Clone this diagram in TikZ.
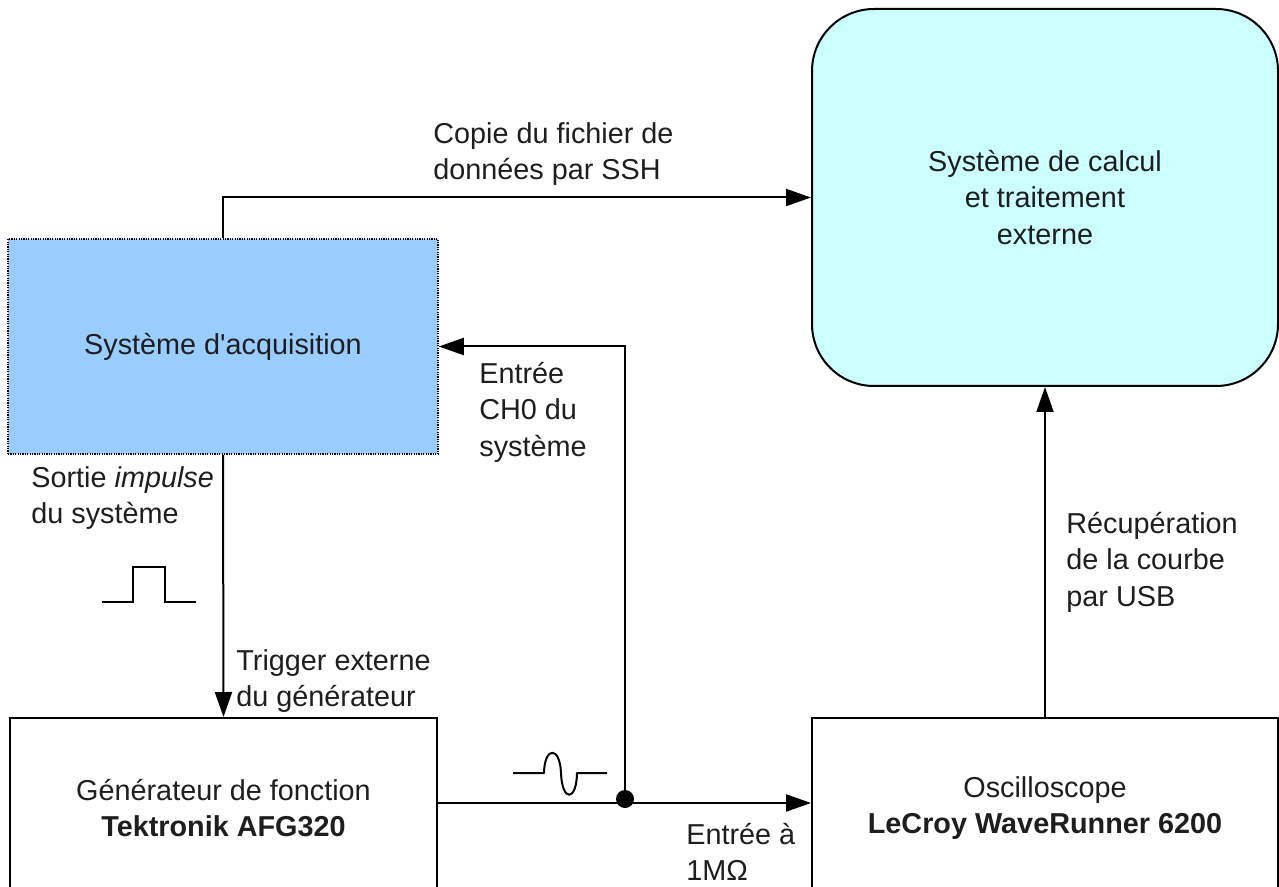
\documentclass[tikz,border=0pt]{standalone}
\usepackage{fontspec}
\setmainfont{Liberation Sans}
\usetikzlibrary{arrows.meta}
\definecolor{acqblue}{HTML}{99CCFF}
\definecolor{calccyan}{HTML}{CCFFFF}
\definecolor{txt}{HTML}{1E1E1E}
\begin{document}
\begin{tikzpicture}[x=0.5pt,y=-0.5pt,
  every node/.style={font=\fontsize{14.4}{18.25}\selectfont, text=txt, inner sep=0pt},
  block/.style={draw, line width=1pt, align=center},
  wire/.style={line width=1pt, -{Triangle[length=12.5pt,width=8.5pt]}},
  lbl/.style={align=left},
  sym/.style={line width=1pt}]
\useasboundingbox (0,0) rectangle (1279,887);
\clip (0,0) rectangle (1279,887);

% blocks
\node[block, fill=acqblue, draw=black, line width=0.8pt, dash pattern=on 0.6pt off 0.6pt,
      minimum width=215pt, minimum height=107.5pt] (acq) at (223,346.5)
      {\raisebox{-2pt}{Système d\textquotesingle acquisition}};
\node[block, fill=calccyan, rounded corners=31pt,
      minimum width=233pt, minimum height=188.5pt] (calc) at (1045,197.5)
      {Système de calcul\\ et traitement\\ externe};
\node[block, minimum width=213.5pt, minimum height=90pt] (gen) at (223.5,808)
      {Générateur de fonction\\ \textbf{Tektronik AFG320}};
\node[block, minimum width=233pt, minimum height=90pt] (osc) at (1045,808)
      {Oscilloscope\\ \textbf{LeCroy WaveRunner 6200}};

% connectors
\coordinate (j) at (625,803);
\draw[wire] (acq.north) |- (calc.west);
\draw[wire] (acq.south) -- (gen.north);
\draw[wire] (gen.east |- j) -- (osc.west |- j);
\draw[wire] (j) |- (acq.east);
\draw[wire] (osc.north) -- (calc.south);
\fill (625,799) circle (4.5pt);

% labels
\node[lbl, anchor=west] (lssh) at (433,154) {Copie du fichier de\\ données par SSH};
\node[lbl, anchor=west] (limp) at (31,498) {Sortie \textit{impulse}\\ du système};
\node[lbl, anchor=west] (ltrig) at (236,681) {Trigger externe\\ du générateur};
\node[lbl, anchor=west] (lch0) at (479,412) {Entrée\\ CH0 du\\ système};
\node[lbl, anchor=west] (lusb) at (1066,562) {Récupération\\ de la courbe\\ par USB};
\node[lbl, anchor=west] (l1m) at (686,852) {Entrée à\\ 1MΩ};

% pulse and wave symbols
\draw[sym] (102,602) -- (133,602) -- (133,567) -- (165,567) -- (165,602) -- (196,602);
\draw[sym, line join=round] (513,773) -- (544,773)
  .. controls (544.5,746) and (560,746) .. (561,773)
  .. controls (562,802) and (576.5,802) .. (577,773) -- (607,773);
\end{tikzpicture}
\end{document}
